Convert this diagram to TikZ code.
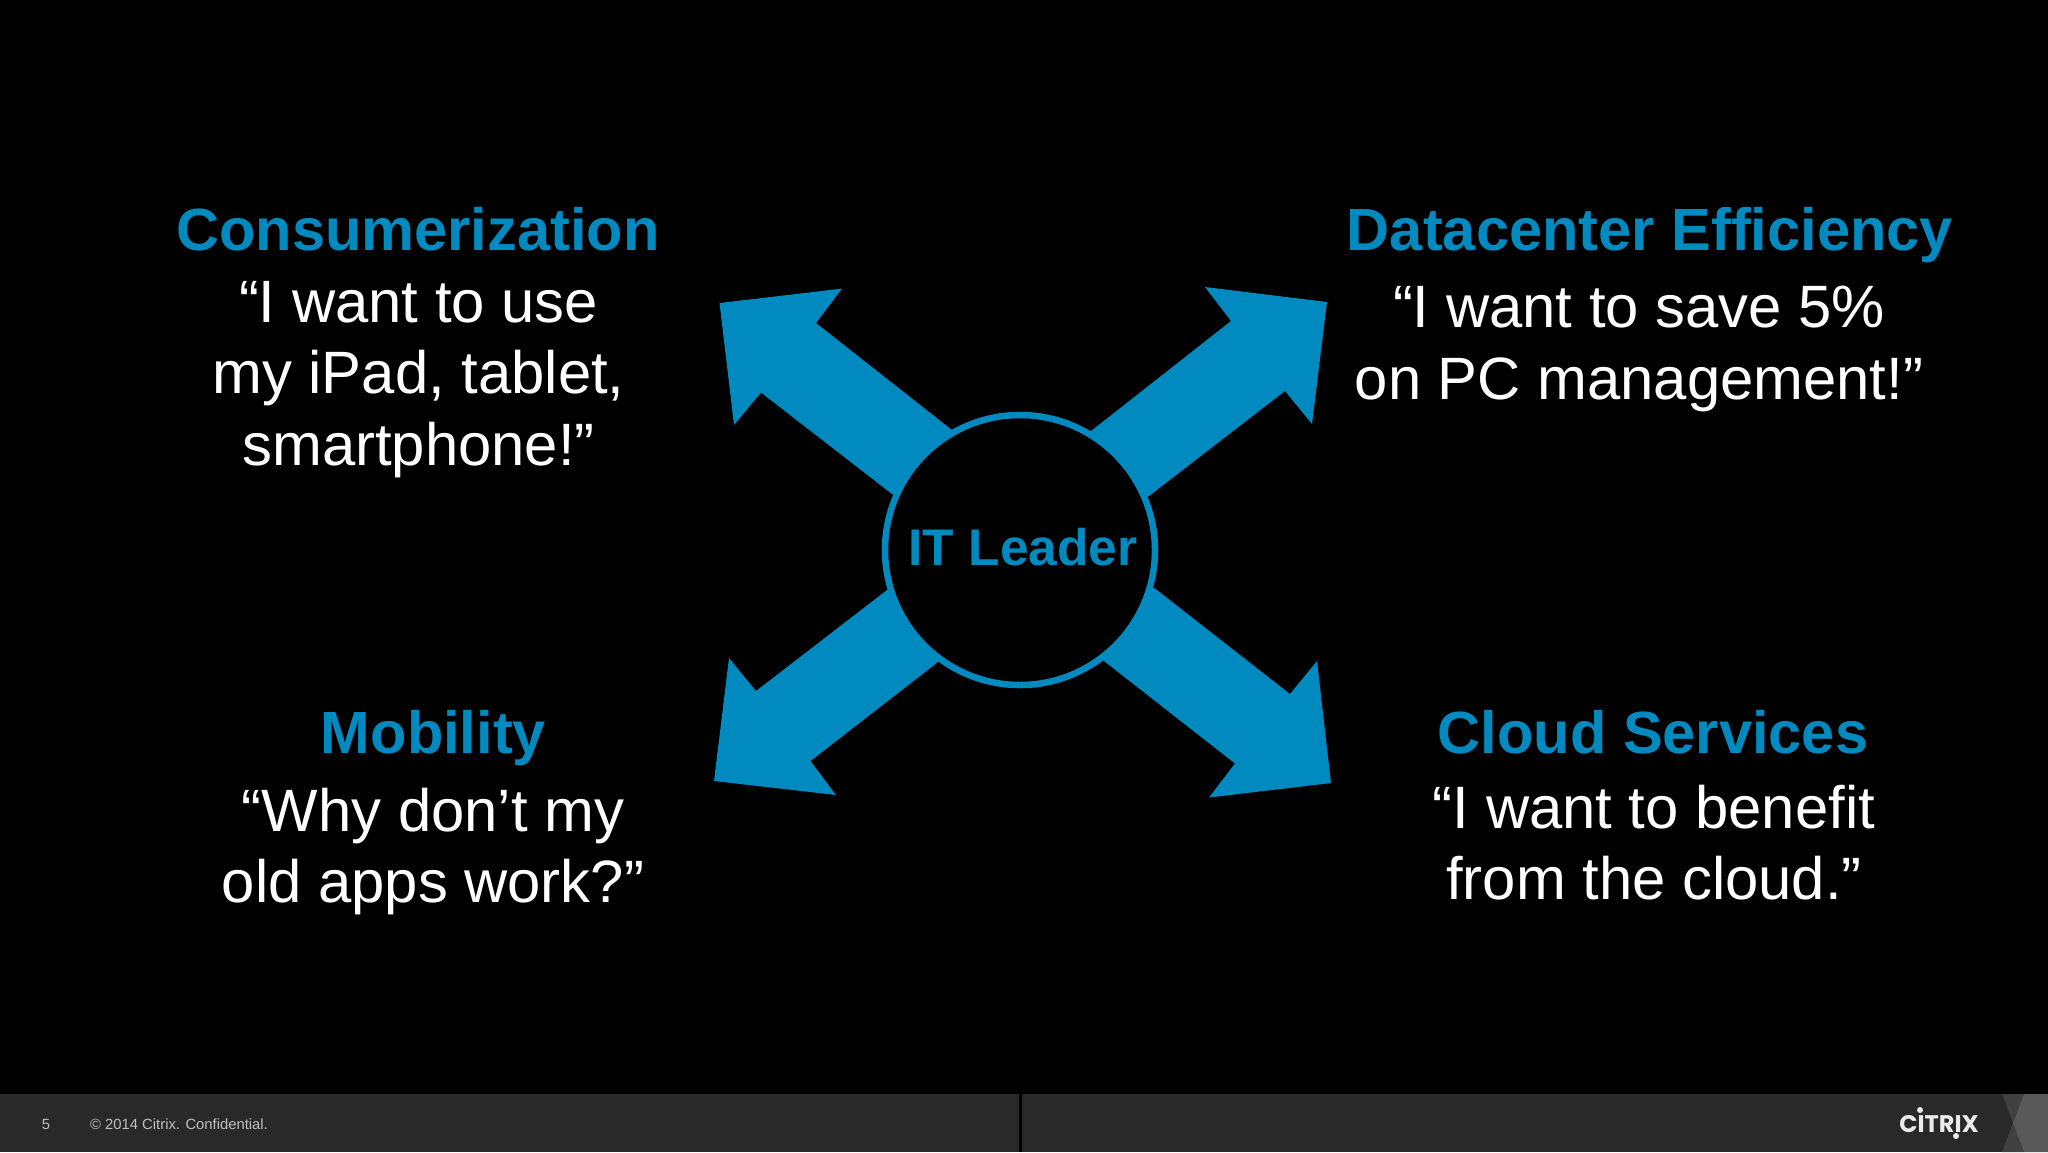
\documentclass[tikz,border=0pt]{standalone}
\usepackage{fontspec}
\setmainfont{Liberation Sans}
\newfontfamily\logofont{Poppins}
\definecolor{citrixblue}{HTML}{008AC0}
\definecolor{footgrey}{HTML}{29292A}
\tikzstyle{heading} = [font=\fontsize{59.6}{72}\selectfont\bfseries,text=citrixblue,anchor=base,inner sep=0pt]
\tikzstyle{quoteline} = [font=\fontsize{59.8}{72}\selectfont,text=white,anchor=base,inner sep=0pt]
\tikzstyle{footnote} = [font=\fontsize{14.8}{18}\selectfont,text=black!25,anchor=base,inner sep=0pt]
\tikzstyle{hub}=[circle,draw=citrixblue,line width=6.5pt,fill=black,minimum size=270pt,inner sep=0pt]
\begin{document}
\begin{tikzpicture}[x=1pt,y=-1pt]
      \useasboundingbox (0,0) rectangle (2048,1152);
      \fill[black] (0,0) rectangle (2048,1152);
      % footer
      \fill[footgrey] (0,1094) rectangle (2048,1152);
      \fill[black] (1019,1094) rectangle (1022,1152);
      \fill[black!75!white] (2002,1094) -- (2024,1094) -- (2013,1123) -- (2024,1152) -- (2002,1152) -- (2013,1123) -- cycle;
      \fill[black!65!white] (2024,1094) -- (2048,1094) -- (2048,1152) -- (2024,1152) -- (2013,1123) -- cycle;
      % arrows
      \foreach \aname/\bx/\by/\nx/\ny/\cx/\cy/\tx/\ty/\dx/\dy/\mx/\my/\ex/\ey in {
        nw/892/494/761/392.5/734/425/719.5/303/842/288.6/816/323/952/430,
        ne/1091/431/1231/321/1205/287/1327/302/1312/424/1285/391/1149/496,
        sw/938/662/810.5/761/836/795/714/781/729/658/756/691/887/590,
        se/1155/588.5/1290/694/1317/661/1331/783/1209/797.5/1235/763.5/1104/661}
      {
        \fill[citrixblue] (\bx,\by) -- (\nx,\ny) -- (\cx,\cy) -- (\tx,\ty) -- (\dx,\dy) -- (\mx,\my) -- (\ex,\ey) -- (1020,550) -- cycle;
      }
      \node[hub] (leader) at (1020,550) {};
      \node[heading,font=\fontsize{51.5}{60}\selectfont\bfseries] (leadertext) at (1023,565) {IT Leader};
      % headings
      \foreach \nodename/\x/\y/\title in {
        consumer/418/250/Consumerization,
        datacenter/1650/250/Datacenter Efficiency,
        mobility/433.5/753/Mobility,
        cloud/1653/753/Cloud Services}
      {
        \node[heading] (\nodename) at (\x,\y) {\title};
      }
      % quotes
      \foreach \nodename/\x/\y/\words in {
        qa/418.5/322/{“I want to use},
        qb/418.5/393.5/{my iPad, tablet,},
        qc/418.5/465/{smartphone!”},
        qd/1639/327/{“I want to save 5\%},
        qe/1639/399/{on PC management!”},
        qf/433/831/{“Why don’t my},
        qg/433/902/{old apps work?”},
        qh/1654/828/{“I want to benefit},
        qi/1654/899/{from the cloud.”}}
      {
        \node[quoteline] (\nodename) at (\x,\y) {\words};
      }
      % footer text and logo
      \node[footnote] (pagenum) at (46,1129) {5};
      \node[footnote,anchor=base west] (copyright) at (90,1129) {© 2014 Citrix. Confidential.};
      \node[anchor=base,inner sep=0pt,text=black!8,font=\fontsize{24}{30}\selectfont\logofont\bfseries] (logo) at (1939,1132) {CITRIX};
      \fill[black!8] (1920,1110) circle (3pt) (1956,1136) circle (3pt);
\end{tikzpicture}
\end{document}
